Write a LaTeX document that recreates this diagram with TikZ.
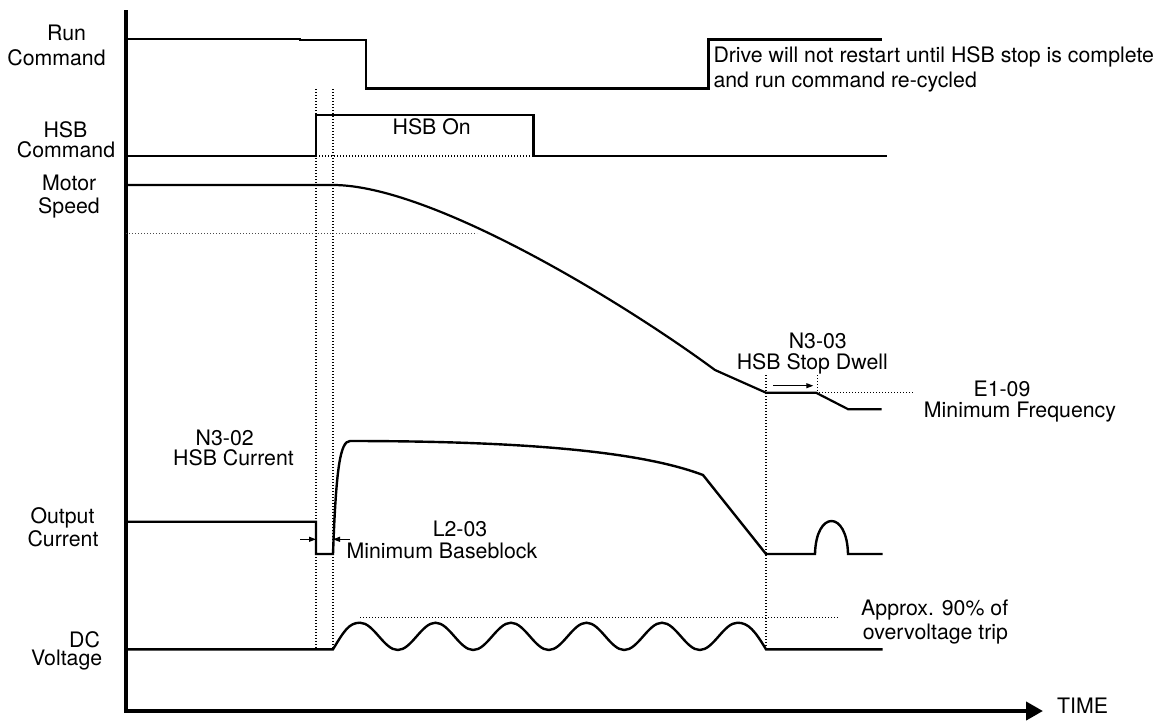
\documentclass[tikz,border=0pt]{standalone}
\usepackage{fontspec}
\setmainfont{TeX Gyre Heros}
\usetikzlibrary{arrows.meta}
\begin{document}
\begin{tikzpicture}[x=1pt,y=-1pt,
  lbl/.style={inner sep=0pt, font=\fontsize{21.3}{25}\selectfont, text height=15pt, text depth=0pt},
  sig/.style={line width=2.4pt, line join=miter},
  dots/.style={line width=1.2pt, dash pattern=on 1.2pt off 1.8pt},
  axisline/.style={line width=4pt, line join=miter},
  dimarrow/.style={line width=1.1pt, -{Triangle[length=7pt,width=5pt]}}]
\useasboundingbox (0,0) rectangle (1158,721);
% axes
\draw[axisline, -{Triangle[length=17pt,width=18pt]}] (126,10) -- (126,711) -- (1043,711);
\node[lbl, anchor=west] (time) at (1057,706.2) {TIME};
% left labels
\node[lbl] (run1) at (66.5,33.3) {Run};
\node[lbl] (run2) at (56.5,57.7) {Command};
\node[lbl] (hsb1) at (65.5,130) {HSB};
\node[lbl] (hsb2) at (66,150.3) {Command};
\node[lbl] (mot1) at (69.2,182.8) {Motor};
\node[lbl] (mot2) at (69,205.8) {Speed};
\node[lbl] (out1) at (62.5,516) {Output};
\node[lbl] (out2) at (63,539.2) {Current};
\node[lbl] (dc1) at (84.5,639.8) {DC};
\node[lbl] (dc2) at (66.7,658.3) {Voltage};
% dotted guide lines
\draw[dots] (316,89) -- (316,649);
\draw[dots] (333,89) -- (333,649);
\draw[dots] (316,156) -- (533,156);
\draw[dots, black!70] (126,233.3) -- (477,233.3);
\draw[dots] (766,375) -- (766,649);
\draw[dots] (817.3,375) -- (817.3,392.7);
\draw[dots] (816,392.7) -- (913.3,392.7);
\draw[dots] (360,617.7) -- (837.3,617.7);
% run command
\draw[sig] (126,38.7) -- (300,38.7) -- (300,40) -- (366,40) -- (366,88.3) -- (708.3,88.3) -- (708.3,39.3) -- (881.7,39.3);
\node[lbl, anchor=west] (note1) at (713.3,54.7) {Drive will not restart until HSB stop is complete};
\node[lbl, anchor=west] (note2) at (713.3,79.7) {and run command re-cycled};
% HSB command
\draw[sig] (126,156) -- (316,156) -- (316,115) -- (533.3,115) -- (533.3,156) -- (887,156);
\node[lbl] (hsbon) at (431.7,126.7) {HSB On};
% motor speed
\draw[sig, line width=2.2pt] (126,185) -- (333,185) .. controls (430,185) and (620,300) .. (715,370) -- (766,392.7) -- (816,392.7) -- (848.3,409.3) -- (881.7,409.3);
\node[lbl] (n303a) at (817.8,341.2) {N3-03};
\node[lbl] (n303b) at (812.3,362.2) {HSB Stop Dwell};
\coordinate (dw1) at (773.3,385.7);
\coordinate (dw2) at (813.3,385.7);
\draw[dimarrow] (dw1) -- (dw2);
\node[lbl] (e109a) at (1002,389) {E1-09};
\node[lbl] (e109b) at (1020,410) {Minimum Frequency};
% output current
\draw[sig] (126,521.7) -- (316,521.7) -- (316,554) -- (333,554) .. controls (336,470) and (340,441) .. (350,441) .. controls (550,441) and (650,455) .. (703,475) -- (766,554) -- (815,554) .. controls (816,510) and (847,510) .. (848,554) -- (882.7,554);
\node[lbl] (n302a) at (224.7,437.5) {N3-02};
\node[lbl] (n302b) at (233.5,457.8) {HSB Current};
\coordinate (bbl1) at (300,539.3);
\coordinate (bbl2) at (316,539.3);
\coordinate (bbr1) at (350,539.3);
\coordinate (bbr2) at (333,539.3);
\draw[dimarrow] (bbl1) -- (bbl2);
\draw[dimarrow] (bbr1) -- (bbr2);
\node[lbl] (l203a) at (460,529.2) {L2-03};
\node[lbl] (l203b) at (442,550.8) {Minimum Baseblock};
% DC voltage
\draw[sig] (126,649.3) -- (333,649.3)
  .. controls (344,631) and (349,622.7) .. (360,622.7)
  .. controls (373.75,622.7) and (384,650) .. (397.75,650)
  .. controls (411.5,650) and (421.75,622.7) .. (435.5,622.7)
  .. controls (449.25,622.7) and (459.5,650) .. (473.25,650)
  .. controls (487,650) and (497.25,622.7) .. (511,622.7)
  .. controls (524.75,622.7) and (535,650) .. (548.75,650)
  .. controls (562.5,650) and (572.75,622.7) .. (586.5,622.7)
  .. controls (600.25,622.7) and (610.5,650) .. (624.25,650)
  .. controls (638,650) and (648.25,622.7) .. (662,622.7)
  .. controls (675.75,622.7) and (686,650) .. (699.75,650)
  .. controls (713.5,650) and (723.75,622.7) .. (737.5,622.7)
  .. controls (748.5,622.7) and (755,631) .. (766,649.3)
  -- (882.7,649.3);
\node[lbl] (ap1) at (934.7,607.8) {Approx. 90\% of};
\node[lbl] (ap2) at (935.5,631.8) {overvoltage trip};
\end{tikzpicture}
\end{document}
